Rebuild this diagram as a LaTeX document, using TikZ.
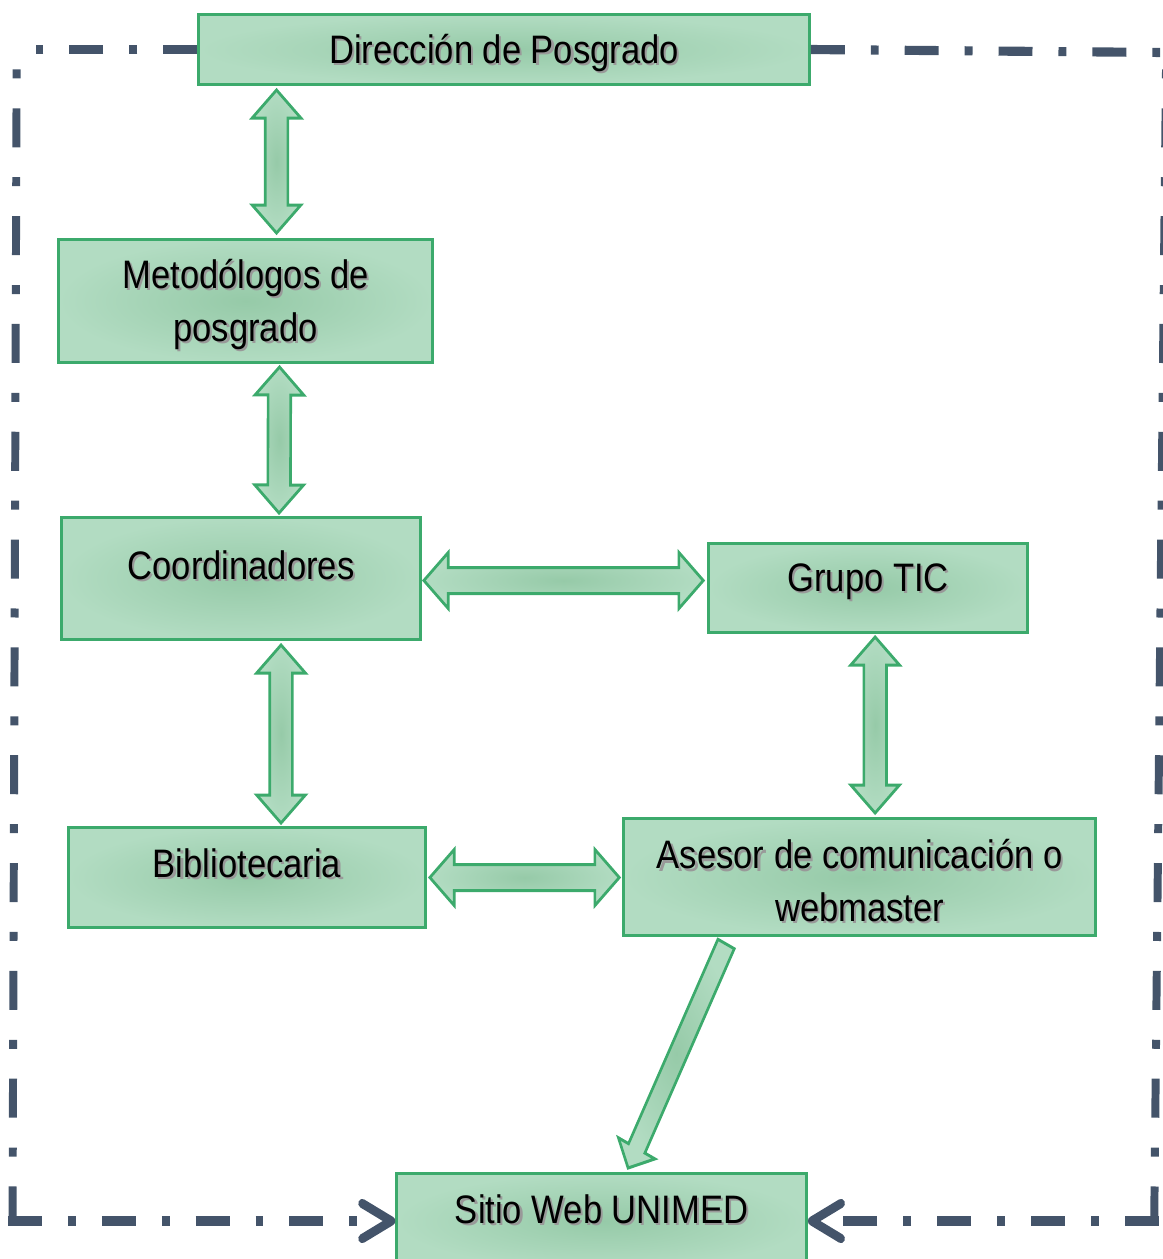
\documentclass[tikz,border=0pt]{standalone}
\usepackage{fontspec}
\setmainfont{Liberation Sans}
\usetikzlibrary{calc,arrows.meta}

\definecolor{verdeborde}{RGB}{60,170,108}
\definecolor{verdeclaro}{RGB}{178,220,194}
\definecolor{verdemedio}{RGB}{150,202,168}
\definecolor{pizarra}{RGB}{68,84,106}

% texto con sombra
\newcommand{\txt}[1]{\rlap{\kern0.7pt\raisebox{-0.7pt}{\color{black!40}#1}}#1}

% flechas de bloque
\def\cabeza{0.28cm}
\def\ancho{0.28cm}
\def\asta{0.13cm}
\newcommand{\dblflecha}[2]{%
  \shadedraw[flecha] (#1)
    -- ($(#1)!\cabeza!(#2)!\ancho!90:(#2)$)
    -- ($(#1)!\cabeza!(#2)!\asta!90:(#2)$)
    -- ($(#2)!\cabeza!(#1)!\asta!-90:(#1)$)
    -- ($(#2)!\cabeza!(#1)!\ancho!-90:(#1)$)
    -- (#2)
    -- ($(#2)!\cabeza!(#1)!\ancho!90:(#1)$)
    -- ($(#2)!\cabeza!(#1)!\asta!90:(#1)$)
    -- ($(#1)!\cabeza!(#2)!\asta!-90:(#2)$)
    -- ($(#1)!\cabeza!(#2)!\ancho!-90:(#2)$)
    -- cycle;}
\newcommand{\flechasola}[2]{%
  \shadedraw[flecha] ($(#1)!0.105cm!90:(#2)$)
    -- ($(#2)!0.22cm!(#1)!0.105cm!-90:(#1)$)
    -- ($(#2)!0.22cm!(#1)!0.235cm!-90:(#1)$)
    -- (#2)
    -- ($(#2)!0.22cm!(#1)!0.235cm!90:(#1)$)
    -- ($(#2)!0.22cm!(#1)!0.105cm!90:(#1)$)
    -- ($(#1)!0.105cm!-90:(#2)$)
    -- cycle;}

\tikzset{
  caja/.style n args={2}{draw=verdeborde, line width=0.85pt, inner color=verdemedio,
    outer color=verdeclaro, inner sep=0pt,
    minimum width=#1*0.011494cm, minimum height=#2*0.01cm},
  rotulo/.style={anchor=base, align=center, inner sep=0pt,
    font=\fontsize{11.3}{15}\selectfont},
  flecha/.style={draw=verdeborde, line width=0.85pt, line join=miter,
    inner color=verdemedio, outer color=verdeclaro},
  marco/.style={draw=pizarra, line width=2.6pt,
    dash pattern=on 11.1pt off 8.5pt on 2.56pt off 8.5pt},
  punta/.style={-{Straight Barb[round,length=9.5pt,width=10pt]}}
}

\begin{document}
\begin{tikzpicture}[x=0.01cm, y=-0.01cm]
    \useasboundingbox (0,0) rectangle (1163,1259);

  \begin{scope}[x=0.011494cm, transform canvas={xscale=0.87}]
    \coordinate (esq-si) at (16.7,49.5);
    \coordinate (esq-ii) at (12.5,1221);
    \coordinate (esq-sd) at (1166,52.5);
    \coordinate (esq-id) at (1154,1221);

    \node[caja={611}{70}] (dir) at (504,49.5) {};
    \node[caja={374}{123}] (met) at (245.5,301) {};
    \node[caja={359}{122}] (coord) at (241,578.5) {};
    \node[caja={319}{89}] (tic) at (868,588) {};
    \node[caja={357}{100}] (bib) at (247,877.5) {};
    \node[caja={472}{117}] (ases) at (859.5,877) {};
    \node[caja={410}{95}] (sitio) at (601.5,1221) {};

    % marco punteado
    \draw[marco] (dir.west) -- (esq-si);
    \draw[marco] ($(esq-ii)+(0,4.5)$) -- (esq-si);
    \draw[marco, punta] ($(esq-ii)+(-4.5,0)$) -- (sitio.west);
    \draw[marco] (dir.east) -- (esq-sd);
    \draw[marco] ($(esq-id)+(0,4.5)$) -- (esq-sd);
    \draw[marco, punta] ($(esq-id)+(4.5,0)$) -- (sitio.east);

    \node[rotulo] (dir-t) at ($(dir)+(0,13.5)$) {\txt{Dirección de Posgrado}};
    \node[rotulo] (met-t) at ($(met)+(0,40)$) {\txt{Metodólogos de}\\\txt{posgrado}};
    \node[rotulo] (coord-t) at ($(coord)+(0,1)$) {\txt{Coordinadores}};
    \node[rotulo] (tic-t) at ($(tic)+(0,3.5)$) {\txt{Grupo TIC}};
    \node[rotulo] (bib-t) at ($(bib)+(0,0)$) {\txt{Bibliotecaria}};
    \node[rotulo] (ases-t) at ($(ases)+(0,44.5)$) {\txt{Asesor de comunicación o}\\\txt{webmaster}};
    \node[rotulo] (sitio-t) at ($(sitio)+(0,2)$) {\txt{Sitio Web UNIMED}};

    \path ($(dir.south -| met.north)+(31,4)$) coordinate (f1a)
          ($(met.north)+(31,-5)$) coordinate (f1b)
          ($(met.south)+(34,3)$) coordinate (f2a)
          ($(coord.north)+(38,-3)$) coordinate (f2b)
          ($(coord.south)+(40,4)$) coordinate (f3a)
          ($(bib.north)+(34,-3)$) coordinate (f3b)
          ($(coord.east)+(2,2)$) coordinate (f4a)
          ($(coord.east -| tic.west)+(-4,2)$) coordinate (f4b)
          ($(tic.south)+(7,3)$) coordinate (f5a)
          ($(ases.north)+(15.5,-4)$) coordinate (f5b)
          ($(bib.east)+(3,0)$) coordinate (f6a)
          ($(bib.east -| ases.west)+(-3,0)$) coordinate (f6b)
          ($(ases.south)+(-133.5,7)$) coordinate (f7a)
          ($(sitio.north)+(26.5,-4)$) coordinate (f7b);

    \foreach \a/\b in {f1a/f1b, f2a/f2b, f3a/f3b, f4a/f4b, f5a/f5b, f6a/f6b}
        {\dblflecha{\a}{\b}}
    \flechasola{f7a}{f7b}
  \end{scope}
\end{tikzpicture}
\end{document}
